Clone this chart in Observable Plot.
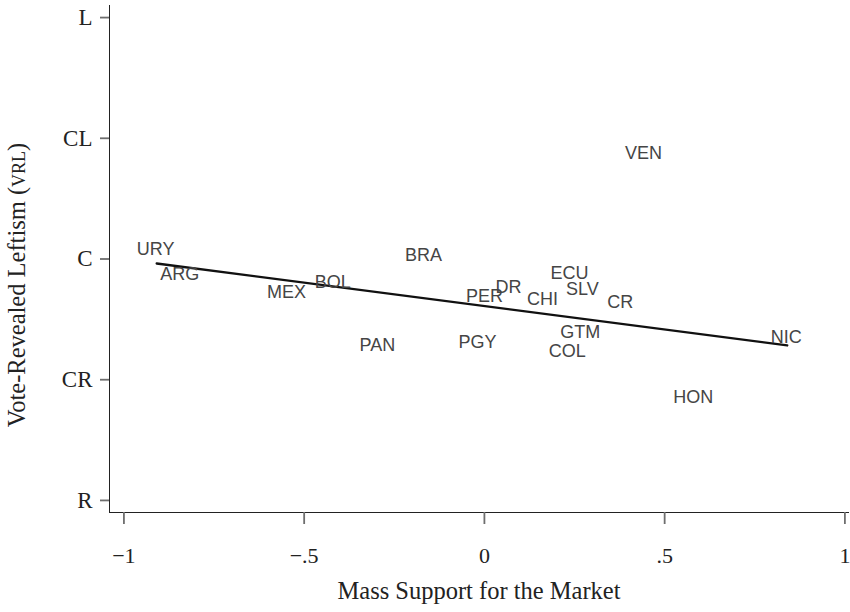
<!DOCTYPE html>
<html>
<head>
<meta charset="utf-8">
<script src="https://cdn.jsdelivr.net/npm/d3@7"></script>
<script src="https://cdn.jsdelivr.net/npm/@observablehq/plot@0.6"></script>
<style>
  html, body { margin: 0; padding: 0; background: #fff; }
  #chart svg { display: block; }
</style>
</head>
<body>
<div id="chart"></div>
<script>
// Countries and their positions (label centers)
const countries = ["URY","ARG","MEX","BOL","BRA","PAN","PGY","PER","DR","CHI","ECU","SLV","CR","GTM","COL","VEN","NIC","HON"];
const marketSupport = [-0.912,-0.845,-0.549,-0.421,-0.169,-0.297,-0.019,0.000,0.067,0.161,0.236,0.272,0.377,0.266,0.230,0.441,0.837,0.579];
const leftism = [2.079,1.872,1.723,1.805,2.029,1.284,1.308,1.689,1.764,1.665,1.880,1.747,1.640,1.391,1.234,2.874,1.350,0.853];

// Fitted values (linear fit) endpoints
const fitX = [-0.909, 0.840];
const fitY = [1.963, 1.284];

// Tick labels
const xTicks = [-1, -0.5, 0, 0.5, 1];
const yTicks = [0, 1, 2, 3, 4];
const yTickLabels = ["R", "CR", "C", "CL", "L"];

const xTitle = "Mass Support for the Market";
const yTitle = "Vote-Revealed Leftism (VRL)";

const points = countries.map((c, i) => ({name: c, x: marketSupport[i], y: leftism[i]}));
const fit = fitX.map((x, i) => ({x, y: fitY[i]}));

const fmtX = d => d === 0 ? "0" : (d < 0 ? "\u2212" : "") + String(Math.abs(d)).replace(/^0/, "");

const serif = "'Liberation Serif', 'DejaVu Serif', serif";
const sans = "'Liberation Sans', Arial, sans-serif";

const chart = Plot.plot({
  width: 850,
  height: 612,
  marginLeft: 109,
  marginRight: 2,
  marginTop: 5,
  marginBottom: 100,
  style: {fontFamily: serif, fontSize: "22px", color: "#222", background: "#fff"},
  x: {domain: [-1.04, 1.01], ticks: xTicks, tickFormat: fmtX, tickSize: 12, tickPadding: 23, line: true, label: null},
  y: {domain: [-0.1, 4.1], ticks: yTicks, tickFormat: d => yTickLabels[d], tickSize: 9, tickPadding: 8, line: true, label: null},
  marks: [
    Plot.line(fit, {x: "x", y: "y", stroke: "#111", strokeWidth: 2.4}),
    Plot.text(points, {x: "x", y: "y", text: "name", fill: "#454545", fontSize: 18, fontFamily: sans}),
    Plot.text([xTitle], {frameAnchor: "bottom", dy: 86, fontSize: 24.5, fontFamily: serif, fill: "#222"}),
    Plot.text([yTitle], {frameAnchor: "left", textAnchor: "middle", dx: -92, dy: 26, rotate: -90, fontSize: 24.5, fontFamily: serif, fill: "#222", className: "ytitle"})
  ]
});

// axis styling
d3.select(chart).selectAll("[aria-label='x-axis tick'] path, [aria-label='y-axis tick'] path, [aria-label='x-axis line'] line, [aria-label='y-axis line'] line, [aria-label='x-axis line'], [aria-label='y-axis line']")
  .attr("stroke", "#6e6e6e").attr("stroke-width", 1.8);
d3.select(chart).selectAll("[aria-label^='x-axis tick label'] text, [aria-label^='y-axis tick label'] text").attr("fill", "#222");
d3.select(chart).selectAll("[aria-label^='y-axis tick label'] text").attr("font-size", 23);

// small caps for VRL
d3.select(chart).selectAll(".ytitle text").each(function() {
  const t = d3.select(this);
  const txt = t.text();
  const i = txt.indexOf("VRL");
  if (i >= 0) {
    t.text(null);
    t.append("tspan").text(txt.slice(0, i));
    t.append("tspan").attr("font-size", 18).text("VRL");
    t.append("tspan").text(txt.slice(i + 3));
  }
});

document.getElementById("chart").appendChild(chart);
</script>
</body>
</html>
